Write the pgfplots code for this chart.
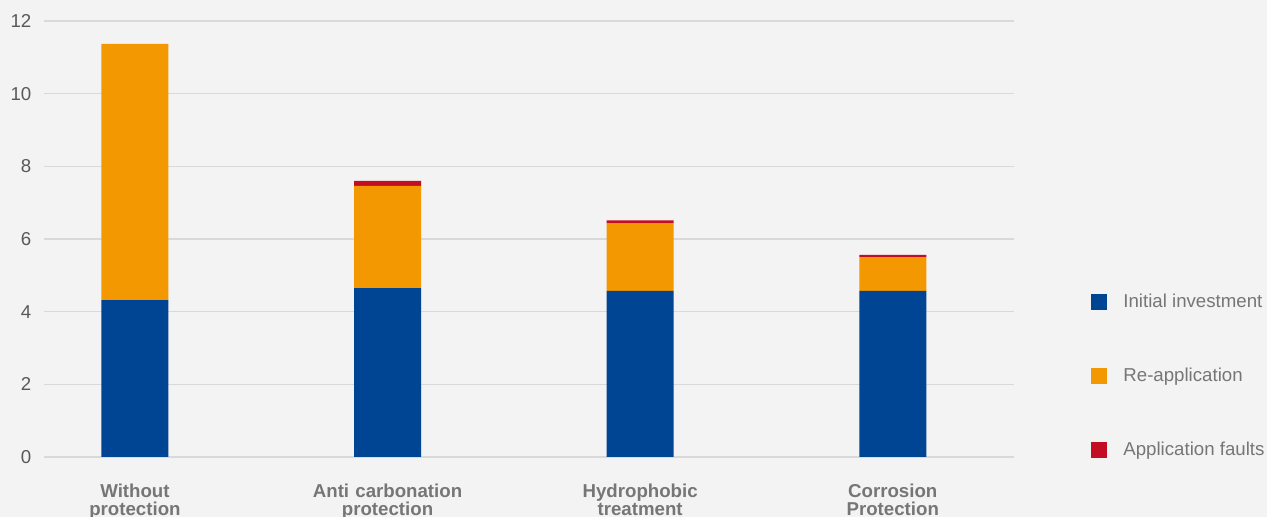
\documentclass[border=0pt]{standalone}
\usepackage{pgfplots}
\pgfplotsset{compat=1.18}
\usepackage{fontspec}
\setmainfont{Liberation Sans}
\definecolor{bgc}{HTML}{F3F3F3}
\definecolor{gridc}{HTML}{D9D9D9}
\definecolor{txt}{HTML}{595959}
\definecolor{txtl}{HTML}{767676}
\definecolor{cblue}{HTML}{004594}
\definecolor{corange}{HTML}{F39800}
\definecolor{cred}{HTML}{C30D23}

\begin{document}
\begin{tikzpicture}
\fill[bgc] (0,0) rectangle (950.25pt,387.75pt);
\useasboundingbox (0,0) rectangle (950.25pt,387.75pt);
\begin{axis}[
    at={(33pt,45pt)}, anchor=south west,
    scale only axis,
    width=727.5pt, height=327pt,
    xmin=-0.36, xmax=3.48,
    ymin=0, ymax=12,
    ybar stacked,
    bar width=50.25pt,
    axis line style={draw=none},
    tick style={draw=none},
    ymajorgrids,
    grid style={gridc, line width=1.2pt},
    ytick={0,2,...,12},
    xtick={0,1,2,3},
    xticklabels={{Without\\protection},{Anti carbonation\\protection},{Hydrophobic\\treatment},{Corrosion\\Protection}},
    xticklabel style={text width=140pt, align=center, font=\fontsize{14}{13.5}\selectfont\bfseries, text=txtl, yshift=-16.5pt},
    yticklabel style={font=\fontsize{14}{16}\selectfont, text=txt, xshift=-6pt},
    /pgf/number format/assume math mode=true,
    legend image code/.code={\fill[#1,draw=none] (0pt,-6pt) rectangle (12pt,6pt);},
    legend style={at={(1.0795,0.381)}, anchor=north west, draw=none, fill=none,
        inner sep=0pt, row sep=40pt, column sep=10pt, text=txtl,
        font=\fontsize{14}{16}\selectfont,
        cells={anchor=west}},
]
\addplot[fill=cblue, draw=none] coordinates {(0,4.32) (1,4.65) (2,4.57) (3,4.57)};
\addplot[fill=corange, draw=none] coordinates {(0,7.05) (1,2.81) (2,1.87) (3,0.93)};
\addplot[fill=cred, draw=none] coordinates {(0,0) (1,0.14) (2,0.07) (3,0.06)};
\legend{Initial investment, Re-application, Application faults}
\end{axis}
\end{tikzpicture}
\end{document}
